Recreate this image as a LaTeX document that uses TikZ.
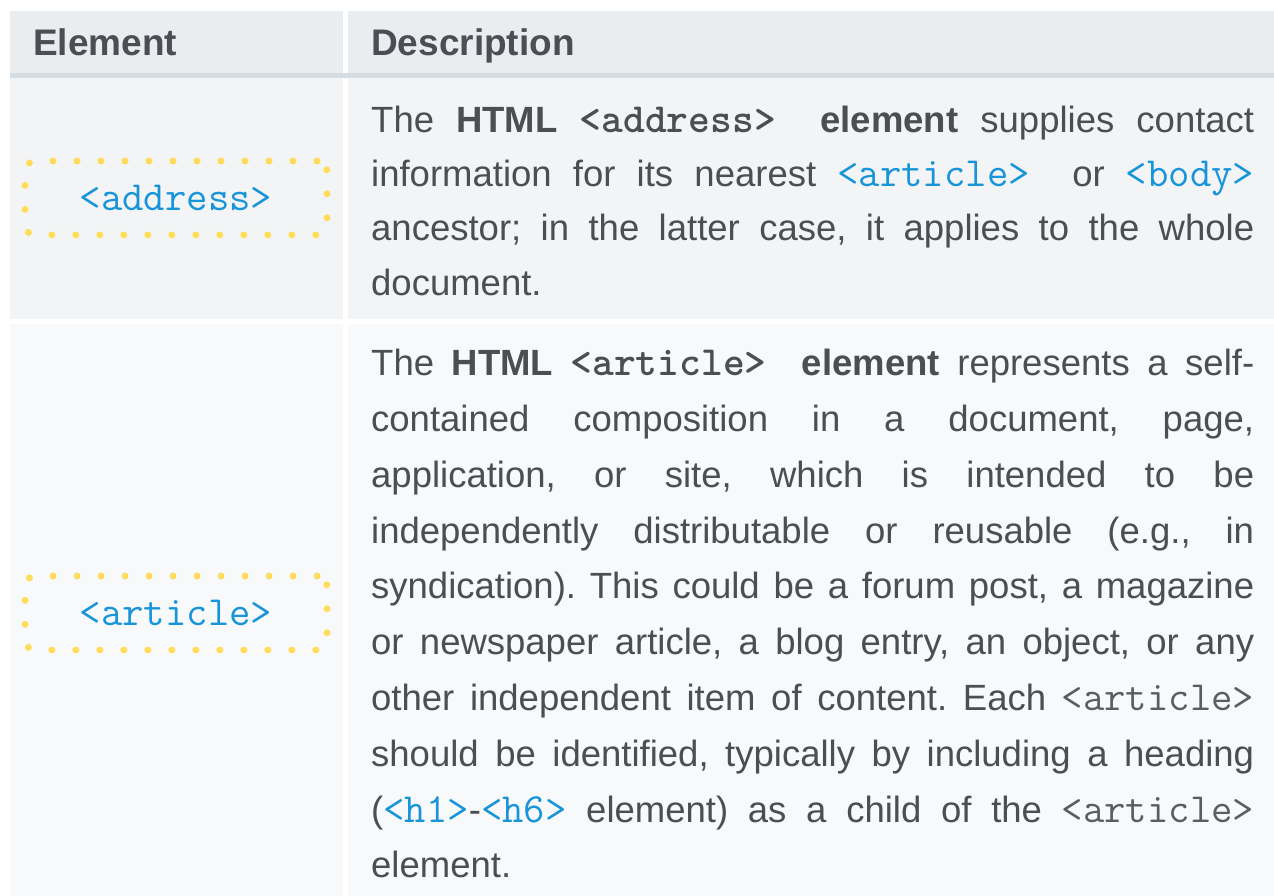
\documentclass[tikz,border=0pt]{standalone}
\usepackage{fontspec}
\setmainfont{Liberation Sans}
\frenchspacing

\definecolor{headbg}{HTML}{E9EDF0}
\definecolor{headrule}{HTML}{D5DDE3}
\definecolor{rowa}{HTML}{F3F4F6}
\definecolor{rowb}{HTML}{F8F9FA}
\definecolor{ink}{HTML}{4B4E53}
\definecolor{codegray}{HTML}{5A5E63}
\definecolor{linkblue}{HTML}{1895D8}
\definecolor{dotyellow}{HTML}{FFDD5C}

% inline code, links and justified lines
\newcommand{\code}[1]{{\ttfamily\fontsize{41.5}{44}\selectfont #1}}
\newcommand{\tagref}[1]{\textcolor{linkblue}{\code{#1}}}
\newcommand{\graycode}[1]{\textcolor{codegray}{\code{#1}}}
\newcommand{\jline}[1]{\makebox[883pt][s]{#1}}

\tikzset{
  x=1pt, y=-1pt,
  cellhead/.style={fill=headbg},
  cellrule/.style={fill=headrule},
  cellodd/.style={fill=rowa},
  celleven/.style={fill=rowb},
  headtext/.style={anchor=base west, inner sep=0pt, text=ink,
    font=\fontsize{37}{44}\selectfont\bfseries},
  bodyline/.style={anchor=base west, inner sep=0pt, text=ink,
    font=\fontsize{36.5}{44}\selectfont},
  tagbox/.style={draw=dotyellow, line width=7pt, line cap=round,
    dash pattern=on 0pt off 24pt, rounded corners=10pt,
    minimum width=302pt, minimum height=74pt, inner sep=0pt,
    text=linkblue, font=\ttfamily\fontsize{41.5}{44}\selectfont},
}

\begin{document}
\begin{tikzpicture}
\useasboundingbox (0,0) rectangle (1274,896);

% table cells
\fill[cellhead] (10,11) rectangle (343,73);
\fill[cellhead] (348,11) rectangle (1274,73);
\fill[cellrule] (10,73) rectangle (1274,78);
\fill[cellodd] (10,78) rectangle (343,319);
\fill[cellodd] (348,78) rectangle (1274,319);
\fill[celleven] (10,324) rectangle (343,896);
\fill[celleven] (348,324) rectangle (1274,896);

% header
\node[headtext] (hElem) at (33,56) {Element};
\node[headtext] (hDesc) at (371,56) {Description};

% element names
\node[tagbox] (tAddress) at (176,198) {<address>};
\node[tagbox] (tArticle) at (176,613) {<article>};

% description of <address>
\node[bodyline] (a1) at (371,132.3) {\jline{The \textbf{HTML \code{<address>}\ \ element} supplies contact}};
\node[bodyline] (a2) at (371,186.6) {\jline{information for its nearest \tagref{<article>}\ \ or \tagref{<body>}}};
\node[bodyline] (a3) at (371,240.9) {\jline{ancestor; in the latter case, it applies to the whole}};
\node[bodyline] (a4) at (371,295.2) {document.};

% description of <article>
\node[bodyline] (b1) at (371,375.7) {\jline{The \textbf{HTML \code{<article>}\ \ element} represents a self-}};
\node[bodyline] (b2) at (371,431.5) {\jline{contained composition in a document, page,}};
\node[bodyline] (b3) at (371,487.3) {\jline{application, or site, which is intended to be}};
\node[bodyline] (b4) at (371,543.1) {\jline{independently distributable or reusable (e.g., in}};
\node[bodyline] (b5) at (371,598.9) {\jline{syndication). This could be a forum post, a magazine}};
\node[bodyline] (b6) at (371,654.7) {\jline{or newspaper article, a blog entry, an object, or any}};
\node[bodyline] (b7) at (371,710.5) {\jline{other independent item of content. Each \graycode{<article>}}};
\node[bodyline] (b8) at (371,766.3) {\jline{should be identified, typically by including a heading}};
\node[bodyline] (b9) at (371,822.1) {\jline{(\tagref{<h1>}-\tagref{<h6>} element) as a child of the \graycode{<article>}}};
\node[bodyline] (b10) at (371,877.9) {element.};
\end{tikzpicture}
\end{document}
